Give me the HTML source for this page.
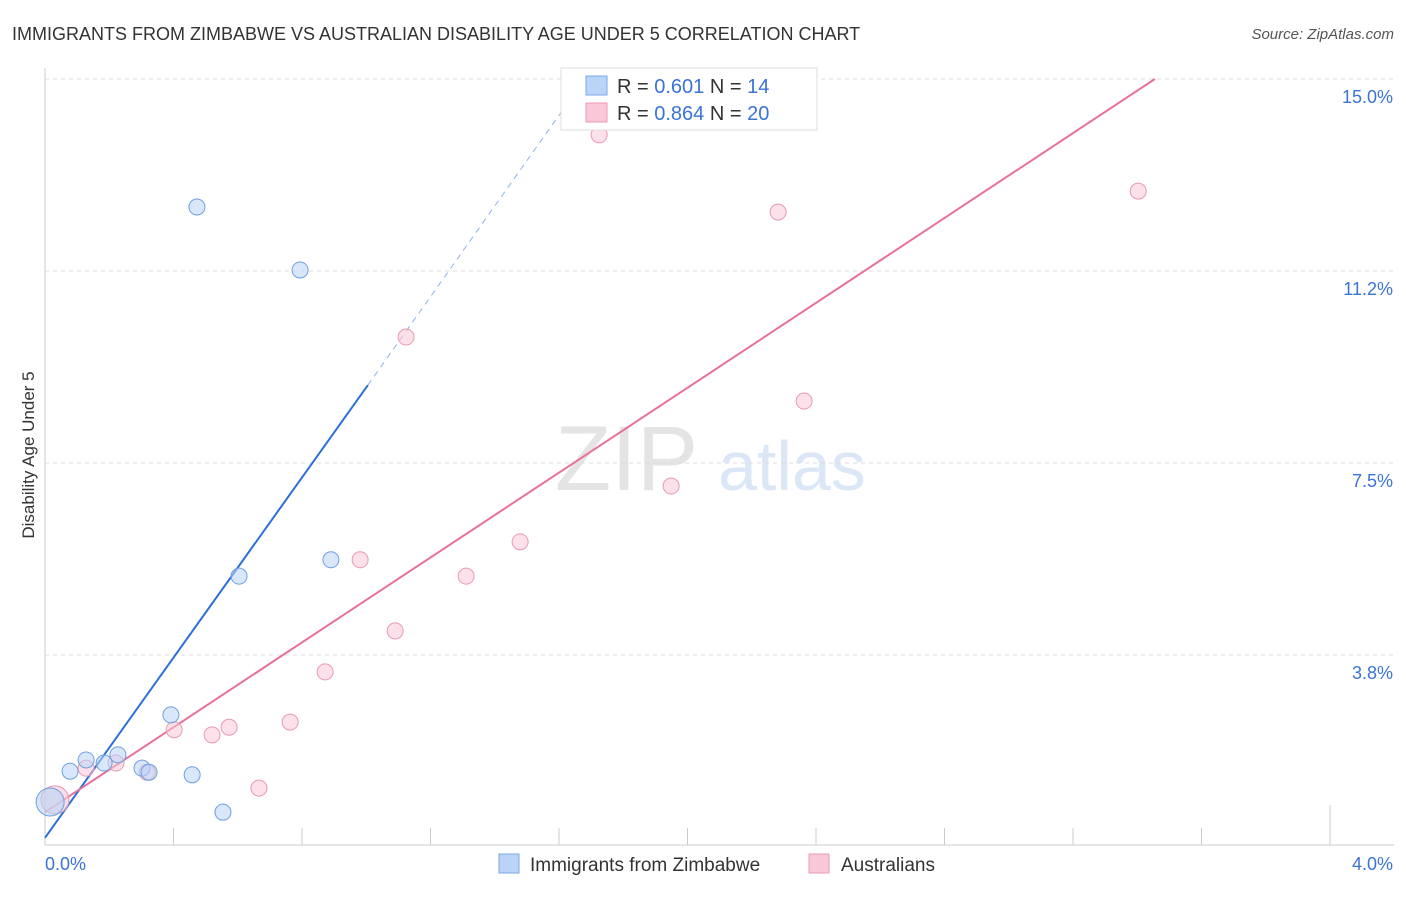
<!DOCTYPE html>
<html><head><meta charset="utf-8"><style>
body{margin:0;background:#fff;font-family:"Liberation Sans",sans-serif}
svg text{font-family:"Liberation Sans",sans-serif}
</style></head><body>
<svg id="chart" width="1406" height="892">
<text x="12" y="40" font-size="18" fill="#333">IMMIGRANTS FROM ZIMBABWE VS AUSTRALIAN DISABILITY AGE UNDER 5 CORRELATION CHART</text>
<text x="1394" y="39" font-size="15" fill="#555" text-anchor="end" font-style="italic">Source: ZipAtlas.com</text>
<text x="34" y="455" font-size="17" fill="#333" text-anchor="middle" transform="rotate(-90 34 455)">Disability Age Under 5</text>
<g><text x="555" y="490" font-size="92" fill="#e4e4e4" font-family="Liberation Serif">ZIP</text><text x="718" y="490" font-size="70" fill="#dbe7f6">atlas</text></g>
<g id="grid"></g><g id="lines"></g><g id="pts"></g>
<g>
<rect x="561" y="68" width="256" height="62" fill="#fff" stroke="#ddd"/>
<rect x="586" y="76" width="21" height="19" fill="#b9d4f7" stroke="#7aa8e8"/>
<rect x="586" y="103" width="21" height="19" fill="#f9c8d8" stroke="#ee9ab4"/>
<text x="617" y="93" font-size="20" fill="#333">R = <tspan fill="#3b73d6">0.601</tspan>   N = <tspan fill="#3b73d6"> 14</tspan></text>
<text x="617" y="120" font-size="20" fill="#333">R = <tspan fill="#3b73d6">0.864</tspan>   N = <tspan fill="#3b73d6">20</tspan></text>
</g>
<g>
<rect x="499" y="854" width="20" height="19" fill="#b9d4f7" stroke="#7aa8e8"/>
<text x="530" y="871" font-size="19" fill="#333">Immigrants from Zimbabwe</text>
<rect x="809" y="854" width="20" height="19" fill="#f9c8d8" stroke="#ee9ab4"/>
<text x="841" y="871" font-size="19" fill="#333">Australians</text>
</g>
</svg>
<script>
const xTicks=[0,0.4,0.8,1.2,1.6,2.0,2.4,2.8,3.2,3.6,4.0];
const yTicks=[3.75,7.5,11.25,15];
const yTickLabels=["3.8%","7.5%","11.2%","15.0%"];
const blueX=[0.473,0.794,0.604,0.890,0.392,0.078,0.128,0.184,0.227,0.302,0.324,0.458,0.554,0.016];
const blueY=[12.5,11.27,5.29,5.61,2.58,1.48,1.70,1.64,1.80,1.54,1.46,1.41,0.68,0.88];
const pinkX=[1.725,2.282,3.403,1.124,2.363,1.949,1.479,0.981,1.311,1.090,0.872,0.763,0.573,0.520,0.402,0.666,0.221,0.128,0.318,0.031];
const pinkY=[13.91,12.40,12.81,9.96,8.71,7.05,5.96,5.61,5.29,4.22,3.42,2.44,2.34,2.19,2.29,1.15,1.64,1.54,1.46,0.92];
const blueLine=[[0,0.18],[1.005,9.02]];
const blueDash=[[1.005,9.02],[1.68,15.0]];
const pinkLine=[[0,0.68],[3.455,15.0]];
const NS="http://www.w3.org/2000/svg";
const X=v=>45+v/4*1285, Y=v=>847-v/3.75*192;
function mk(p,t,a){const e=document.createElementNS(NS,t);for(const k in a)e.setAttribute(k,a[k]);document.getElementById(p).appendChild(e);return e;}
let e;
e=mk('grid','line',{x1:45,y1:68,x2:45,y2:845,stroke:'#ccc'});


e=mk('grid','line',{x1:45,y1:845,x2:1394,y2:845,stroke:'#ccc'});


yTicks.forEach((t,i)=>{
 e=mk('grid','line',{x1:45,x2:1394,y1:Y(t),y2:Y(t),stroke:'#ddd','stroke-dasharray':'4 4'});
 
 
 e=mk('grid','text',{x:1393,y:Y(t)+24,'font-size':18,fill:'#3b73d6','text-anchor':'end'});
 e.textContent=yTickLabels[i];
 
 
});
xTicks.slice(1,-1).forEach(t=>{
 e=mk('grid','line',{x1:X(t),x2:X(t),y1:828,y2:845,stroke:'#ccc'});
 
 
});
e=mk('grid','line',{x1:1330,x2:1330,y1:805,y2:845,stroke:'#ccc'});


e=mk('grid','text',{x:45,y:870,'font-size':18,fill:'#3b73d6'});e.textContent='0.0%';


e=mk('grid','text',{x:1393,y:870,'font-size':18,fill:'#3b73d6','text-anchor':'end'});e.textContent='4.0%';


function pts(xs,ys,fill,stroke,name){xs.forEach((x,i)=>{
 const big=i===xs.length-1;
 e=mk('pts','circle',{cx:X(x),cy:Y(ys[i]),r:big?14:8,fill:fill,'fill-opacity':big?0.6:0.55,stroke:stroke,'stroke-width':1});
 
 
});}
pts(pinkX,pinkY,'#f9c8d8','#e89ab2','australians-point');
pts(blueX,blueY,'#b9d4f7','#6f9fe0','zimbabwe-point');
e=mk('lines','line',{x1:X(blueLine[0][0]),y1:Y(blueLine[0][1]),x2:X(blueLine[1][0]),y2:Y(blueLine[1][1]),stroke:'#2d6fd8','stroke-width':2});


e=mk('lines','line',{x1:X(blueDash[0][0]),y1:Y(blueDash[0][1]),x2:X(blueDash[1][0]),y2:Y(blueDash[1][1]),stroke:'#8fb2e8','stroke-width':1,'stroke-dasharray':'6 5'});


e=mk('lines','line',{x1:X(pinkLine[0][0]),y1:Y(pinkLine[0][1]),x2:X(pinkLine[1][0]),y2:Y(pinkLine[1][1]),stroke:'#e8709a','stroke-width':2});


</script>
</body></html>
